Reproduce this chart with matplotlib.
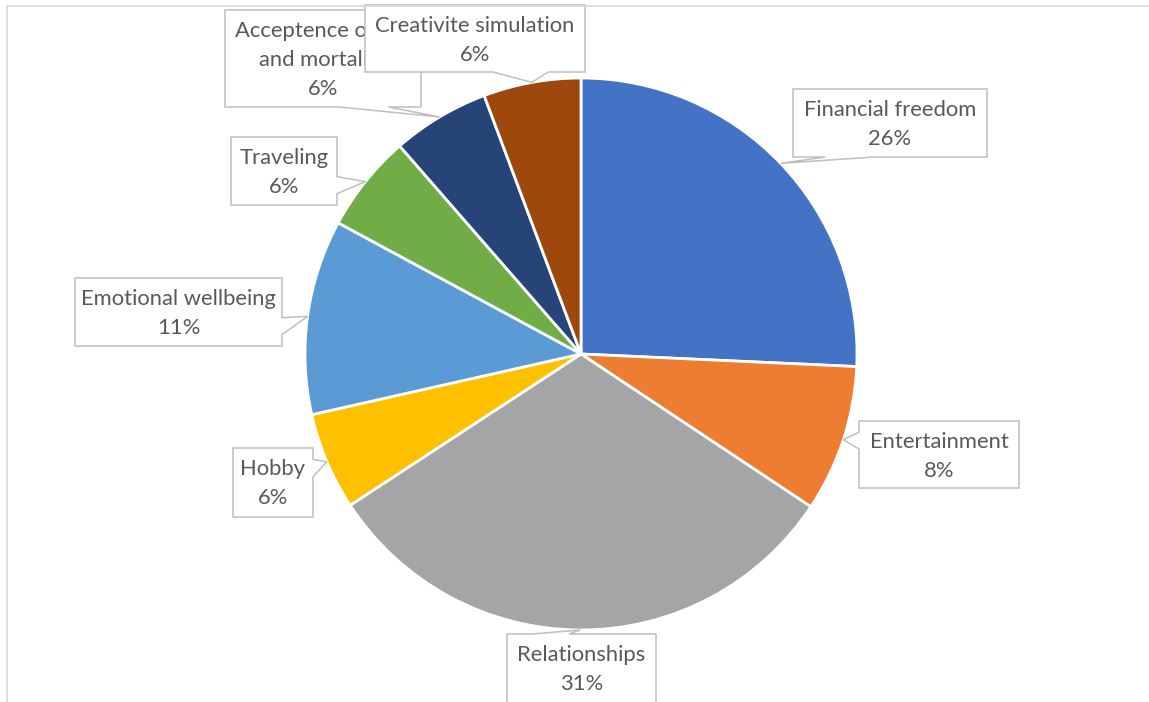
"""Pie of life goals with Excel-style callout labels."""

import numpy as np
import matplotlib
matplotlib.use('Agg')
matplotlib.rcParams['font.family'] = ['Lato', 'DejaVu Sans']
import matplotlib.pyplot as plt
from matplotlib.patches import Polygon
from matplotlib.lines import Line2D

W, H = 1149, 702

categories = ['Financial freedom', 'Entertainment', 'Relationships', 'Hobby',
              'Emotional wellbeing', 'Traveling',
              'Acceptence of life\nand mortality', 'Creativite simulation']
# slice shares
shares = [25.7, 8.6, 31.4, 5.7, 11.4, 5.7, 5.7, 5.7]
# percentages printed on the labels
pct_shown = [26, 8, 31, 6, 11, 6, 6, 6]

colors = ['#4472C4', '#ED7D31', '#A5A5A5', '#FFC000',
          '#5B9BD5', '#70AD47', '#264478', '#9E480E']

# label boxes in pixels: left, top, width, height, side of the pointer
boxes = [
    (793, 89, 194, 68, 'bottom'),
    (859, 421, 160, 67, 'left'),
    (507, 634, 149, 80, 'top'),
    (233, 448, 80, 69, 'right'),
    (75, 278, 207, 68, 'right'),
    (231, 137, 106, 68, 'right'),
    (225, 10, 196, 97, 'bottom'),
    (365, 5, 220, 67, 'bottom'),
]

CX, CY, R = 581, 354, 276
TEXT = '#595959'
EDGE = '#BFBFBF'


def py(y):
    return H - y


def callout(l, t, w, h, tip, side):
    tx, ty = tip
    if side in ('top', 'bottom'):
        g = (7, 10) if tx > l + w / 2 else (2, 5)
        a, b = l + w * g[0] / 12, l + w * g[1] / 12
    else:
        g = (7, 10) if ty > t + h / 2 else (2, 5)
        a, b = t + h * g[0] / 12, t + h * g[1] / 12
    pts = [(l, t)]
    if side == 'top':
        pts += [(a, t), (tx, ty), (b, t)]
    pts.append((l + w, t))
    if side == 'right':
        pts += [(l + w, a), (tx, ty), (l + w, b)]
    pts.append((l + w, t + h))
    if side == 'bottom':
        pts += [(b, t + h), (tx, ty), (a, t + h)]
    pts.append((l, t + h))
    if side == 'left':
        pts += [(l, b), (tx, ty), (l, a)]
    return [(x, py(y)) for x, y in pts]


fig = plt.figure(figsize=(W / 100, H / 100), dpi=100)
ax = fig.add_axes([0, 0, 1, 1])
wedges, _ = ax.pie(shares, colors=colors, startangle=90, counterclock=False,
                   center=(CX, py(CY)), radius=R, frame=True,
                   wedgeprops=dict(edgecolor='white', linewidth=2))
ax.set_xlim(0, W)
ax.set_ylim(0, H)
ax.set_aspect('equal')
ax.axis('off')

for i, (wedge, (l, t, w, h, side)) in enumerate(zip(wedges, boxes)):
    mid = np.deg2rad((wedge.theta1 + wedge.theta2) / 2)
    tip = (CX + R * np.cos(mid), CY - R * np.sin(mid))
    poly = Polygon(callout(l, t, w, h, tip, side), closed=True,
                   facecolor='white', edgecolor=EDGE, linewidth=1.1,
                   zorder=5 + 2 * i)
    ax.add_patch(poly)
    lines = categories[i].split('\n') + ['{}%'.format(pct_shown[i])]
    for j, line in enumerate(lines):
        ax.text(l + w / 2, py(t + 21 + 29 * j), line, ha='center', va='center',
                fontsize=15.8, color=TEXT, zorder=6 + 2 * i)

# chart area border (only top and left visible in the crop)
fig.add_artist(Line2D([7 / W, 1148 / W], [py(5.5) / H] * 2,
                      color='#D9D9D9', linewidth=1.2, transform=fig.transFigure))
fig.add_artist(Line2D([6.5 / W] * 2, [0, py(5.5) / H],
                      color='#D9D9D9', linewidth=1.2, transform=fig.transFigure))

fig.savefig('out.png', dpi=100)
